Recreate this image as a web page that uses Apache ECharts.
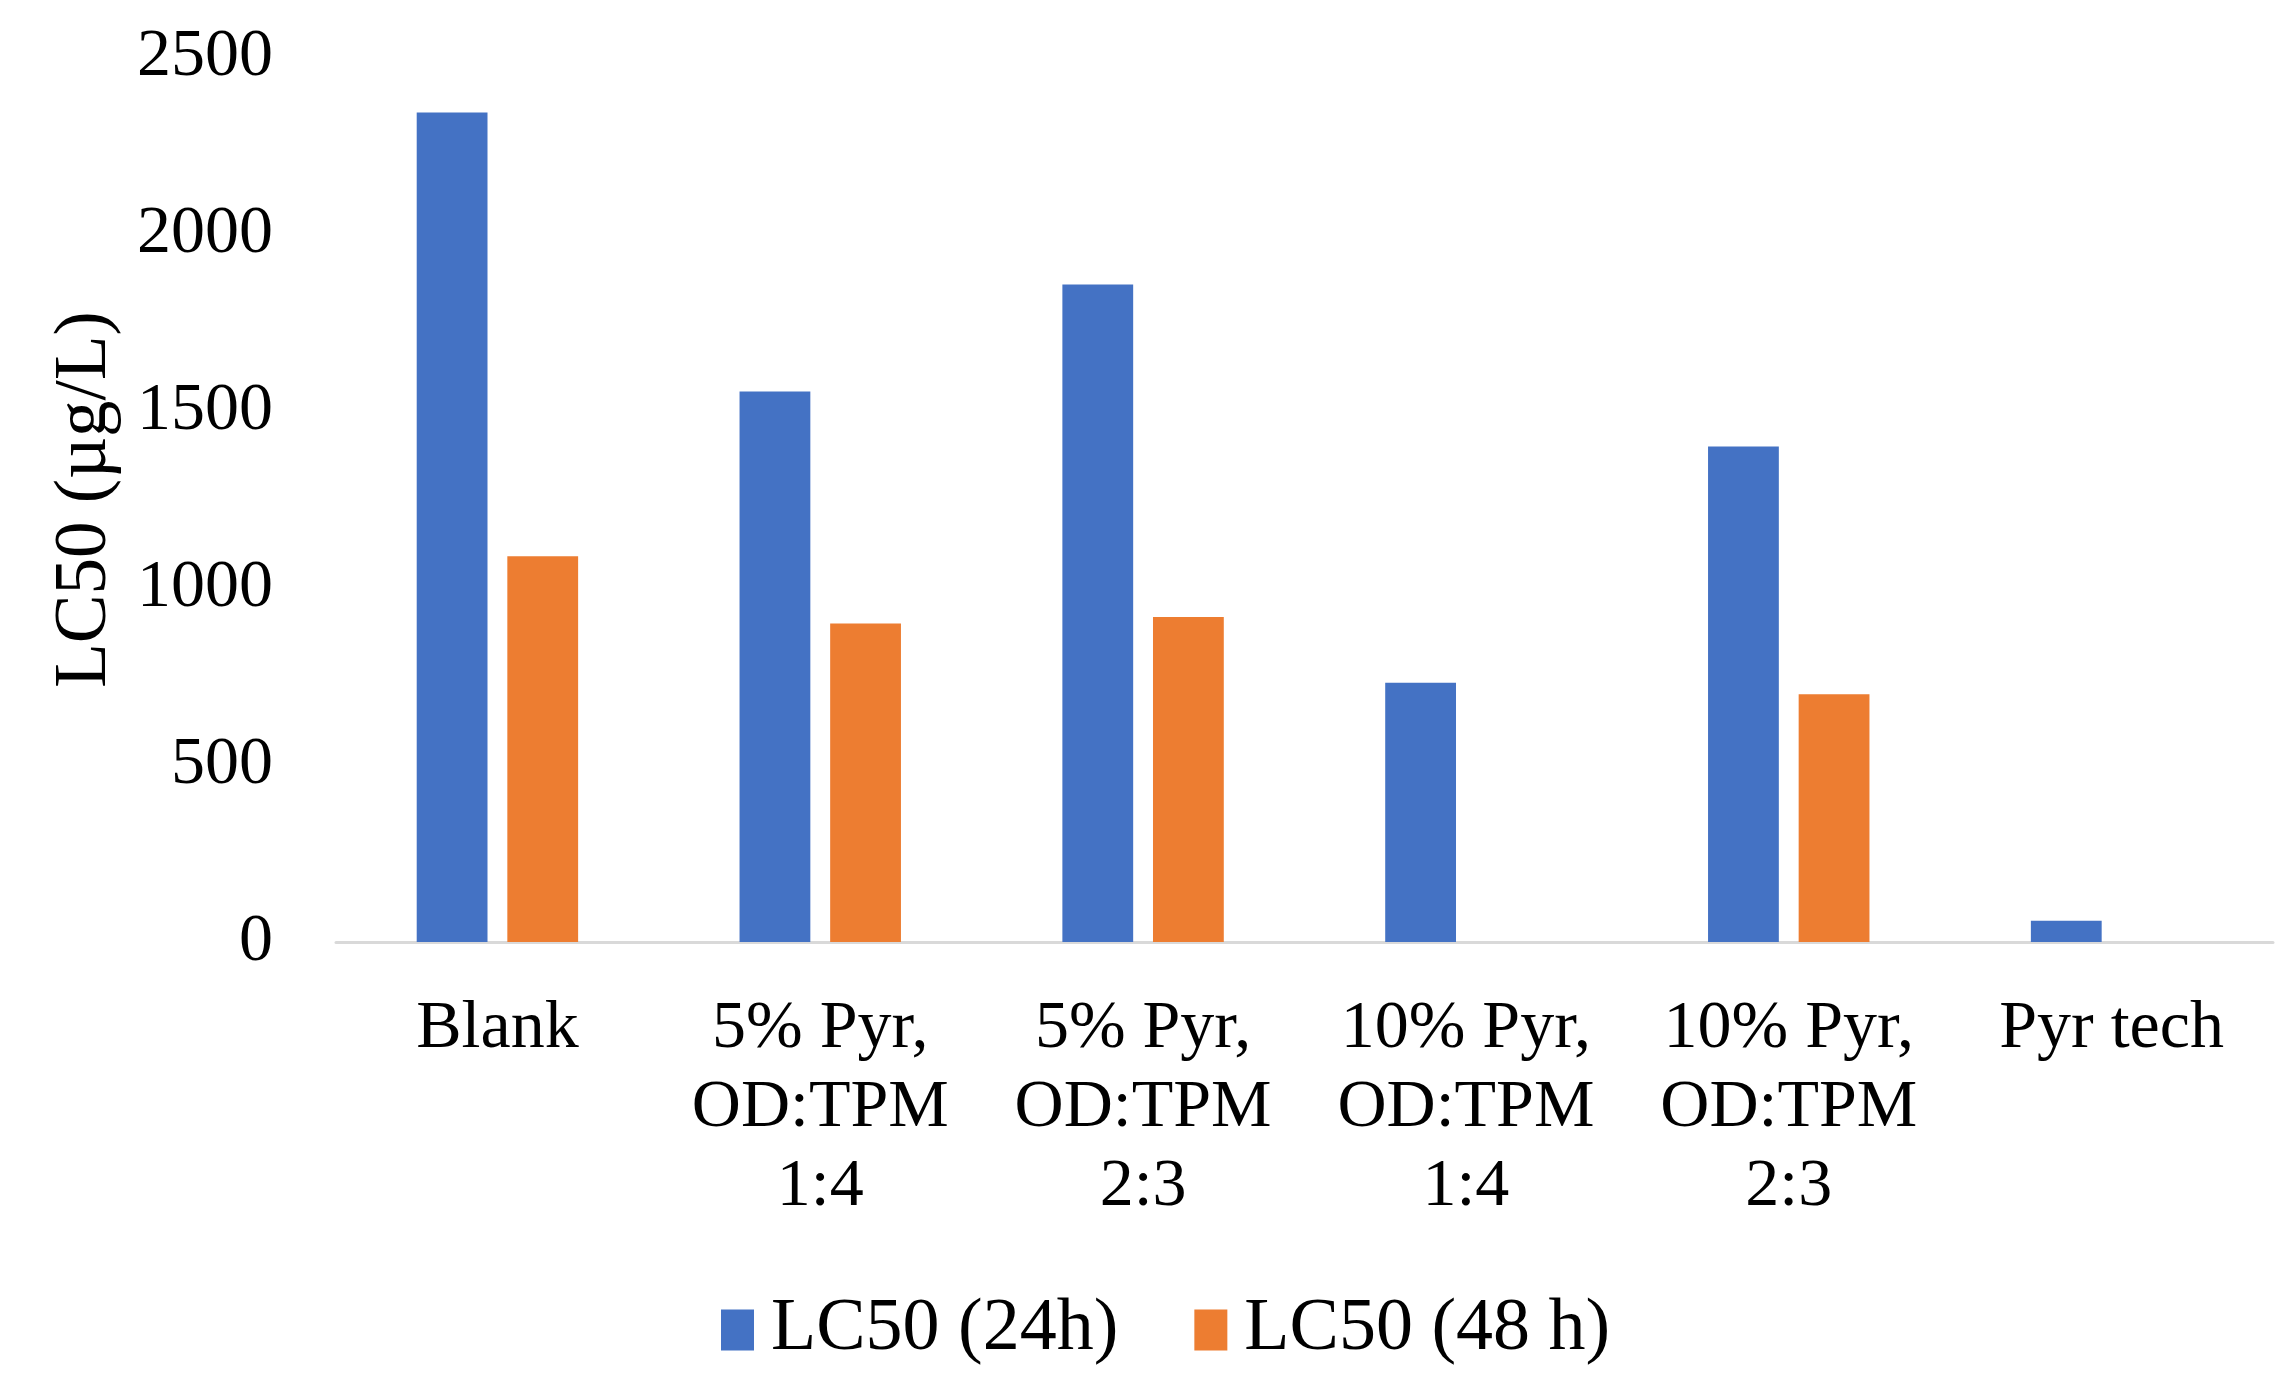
<!DOCTYPE html>
<html>
<head>
<meta charset="utf-8">
<script src="https://cdn.jsdelivr.net/npm/echarts@6/dist/echarts.min.js"></script>
<style>
html,body{margin:0;padding:0;background:#fff;}
#chart{width:2288px;height:1390px;}
</style>
</head>
<body>
<div id="chart"></div>
<script>
const categories = ['Blank', '5% Pyr,\nOD:TPM\n1:4', '5% Pyr,\nOD:TPM\n2:3', '10% Pyr,\nOD:TPM\n1:4', '10% Pyr,\nOD:TPM\n2:3', 'Pyr tech'];
const lc50_24h = [2343, 1555, 1857, 732, 1400, 60];
const lc50_48h = [1090, 900, 918, null, 700, null];
const seriesNames = ['LC50 (24h)', 'LC50 (48 h)'];
const yTicks = { min: 0, max: 2500, interval: 500 };

const FONT = '"Liberation Serif", "Times New Roman", serif';
const chart = echarts.init(document.getElementById('chart'));
chart.setOption({
  backgroundColor: '#ffffff',
  animation: false,
  color: ['#4472C4', '#ED7D31'],
  grid: { left: 336, right: 15, top: 57, bottom: 448, containLabel: false },
  legend: {
    data: seriesNames,
    left: 716,
    top: 1288,
    itemWidth: 33,
    itemHeight: 41,
    itemGap: 76,
    icon: 'rect',
    textStyle: { fontFamily: FONT, fontSize: 74, color: '#000', padding: [0, 0, 0, 12] }
  },
  xAxis: {
    type: 'category',
    data: categories,
    axisLine: { show: true, lineStyle: { color: '#d9d9d9', width: 3 } },
    axisTick: { show: false },
    splitLine: { show: false },
    axisLabel: {
      interval: 0,
      margin: 48,
      fontFamily: FONT,
      fontSize: 68,
      lineHeight: 79,
      color: '#000'
    }
  },
  yAxis: {
    type: 'value',
    min: yTicks.min,
    max: yTicks.max,
    interval: yTicks.interval,
    name: 'LC50 (µg/L)',
    nameLocation: 'middle',
    nameGap: 214,
    nameTextStyle: { fontFamily: FONT, fontSize: 73, color: '#000' },
    axisLine: { show: false },
    axisTick: { show: false },
    splitLine: { show: false },
    axisLabel: { margin: 63, fontFamily: FONT, fontSize: 68, color: '#000', formatter: v => String(v) }
  },
  series: [
    { name: seriesNames[0], type: 'bar', data: lc50_24h, barGap: '28%', barCategoryGap: '50%' },
    { name: seriesNames[1], type: 'bar', data: lc50_48h, barGap: '28%', barCategoryGap: '50%' }
  ]
});
</script>
</body>
</html>
